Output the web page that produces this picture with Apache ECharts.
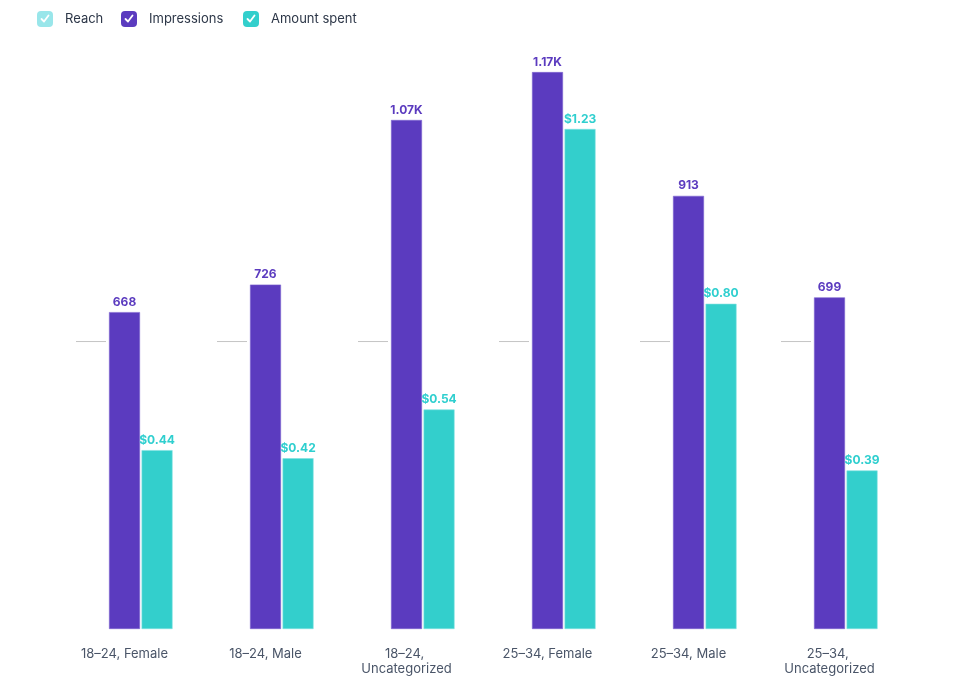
<!DOCTYPE html>
<html><head><meta charset="utf-8">
<script src="https://cdn.jsdelivr.net/npm/echarts@6/dist/echarts.min.js"></script>
<style>html,body{margin:0;padding:0;background:#fff}#c{width:975px;height:688px}</style>
</head><body><div id="c"></div>
<script>
var categories = ['18–24, Female', '18–24, Male', '18–24, Uncategorized', '25–34, Female', '25–34, Male', '25–34, Uncategorized'];
var reach = [607, 607, 607, 607, 607, 607];
var impressions = [668, 726, 1073, 1174, 913, 699];
var amountSpent = [0.44, 0.42, 0.54, 1.23, 0.80, 0.39];
var legendNames = ['Reach', 'Impressions', 'Amount spent'];

var PURPLE = '#5b3bbf', TEAL = '#33cfcc', REACH = '#99e6ea';
var FONT = 'Inter, "Noto Sans", sans-serif';
var chart = echarts.init(document.getElementById('c'), null, {renderer: 'canvas'});

function legendAt(left, name, color) {
  return {
    left: left, top: 11, itemWidth: 16, itemHeight: 16, padding: 0,
    icon: 'roundRect', selectedMode: false,
    itemStyle: {borderWidth: 0},
    data: [{name: name, itemStyle: {color: color, borderWidth: 0}}],
    textStyle: {fontFamily: FONT, fontSize: 13, color: '#2d3748', padding: [2, 0, 0, 7]}
  };
}
function check(x) {
  return {type: 'polyline', z: 100, silent: true,
    shape: {points: [[x + 4.5, 19], [x + 7, 21.5], [x + 11.5, 15.5]]},
    style: {stroke: '#fff', lineWidth: 1.8, fill: null, lineCap: 'round', lineJoin: 'round'}};
}

chart.setOption({
  animation: false,
  textStyle: {fontFamily: FONT},
  legend: [legendAt(37, legendNames[0], REACH), legendAt(121, legendNames[1], PURPLE), legendAt(243, legendNames[2], TEAL)],
  graphic: [check(37), check(121), check(243)],
  grid: {left: 54, right: 75, top: 36, bottom: 59},
  xAxis: {
    type: 'category', data: categories,
    axisLine: {show: false}, axisTick: {show: false},
    axisLabel: {color: '#4a5568', fontSize: 13, margin: 18, lineHeight: 15, width: 120, overflow: 'break', interval: 0}
  },
  yAxis: [
    {type: 'value', min: 0, max: 1250, show: false, splitLine: {show: false}},
    {type: 'value', min: 0, max: 1.4587, show: false, splitLine: {show: false}}
  ],
  series: [
    {name: legendNames[0], type: 'bar', yAxisIndex: 0, data: reach, barWidth: 31, barGap: '5%',
      itemStyle: {color: 'rgba(0,0,0,0)'}, silent: true},
    {name: legendNames[1], type: 'bar', yAxisIndex: 0, data: impressions, barWidth: 31, barGap: '5%',
      itemStyle: {color: PURPLE, borderColor: '#7e64d0', borderWidth: 0.6},
      label: {show: true, position: 'top', distance: 4, color: PURPLE, fontWeight: 'bold', fontSize: 12,
        formatter: function (p) { return p.value >= 1000 ? (p.value / 1000).toFixed(2) + 'K' : String(p.value); }}},
    {name: legendNames[2], type: 'bar', yAxisIndex: 1, data: amountSpent, barWidth: 31, barGap: '5%',
      itemStyle: {color: TEAL, borderColor: '#7fe3e0', borderWidth: 0.6},
      label: {show: true, position: 'top', distance: 4, color: '#2fcfcf', fontWeight: 'bold', fontSize: 12,
        formatter: function (p) { return '$' + p.value.toFixed(2); }}},
    {name: 'reachLine', type: 'pictorialBar', yAxisIndex: 0, data: reach, symbol: 'rect',
      symbolSize: [30, 1], symbolPosition: 'end', symbolOffset: [-33.5, 0], silent: true,
      itemStyle: {color: '#c4c4c4'}, z: 5}
  ]
});
</script></body></html>
